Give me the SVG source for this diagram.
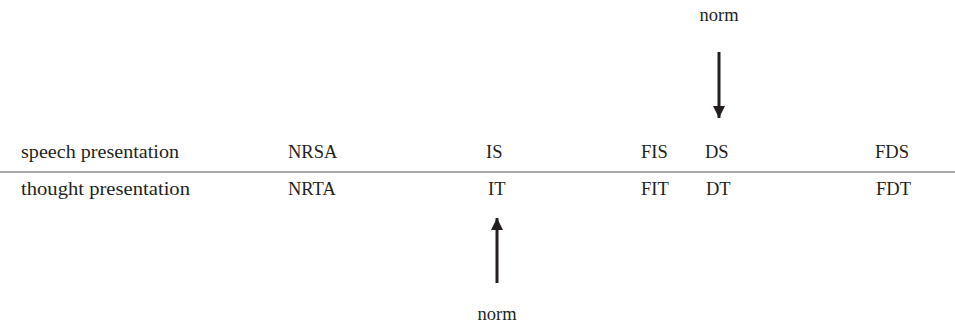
<svg xmlns="http://www.w3.org/2000/svg" width="955" height="327" viewBox="0 0 955 327">
<style>
text{font-family:"Liberation Serif","Times New Roman",serif;font-size:18.5px;fill:#231f20}
.ln{stroke:#231f20;stroke-width:3;fill:none}
</style>
<defs>
<marker id="ah" viewBox="0 0 10 10" refX="10" refY="5" markerWidth="4.5" markerHeight="4" orient="auto" markerUnits="strokeWidth">
<path d="M0,0 L10,5 L0,10 z" fill="#231f20"/>
</marker>
</defs>
<rect width="955" height="327" fill="#fff"/>
<g id="table">
<line x1="0" y1="172" x2="955" y2="172" stroke="#555" stroke-width="1.2"/>
</g>
<g id="row-speech">
<text x="21" y="158" textLength="158" lengthAdjust="spacingAndGlyphs">speech presentation</text>
<text x="288" y="158">NRSA</text>
<text x="486" y="158">IS</text>
<text x="641" y="158">FIS</text>
<text x="705" y="158">DS</text>
<text x="875" y="158">FDS</text>
</g>
<g id="row-thought">
<text x="21" y="195" textLength="169" lengthAdjust="spacingAndGlyphs">thought presentation</text>
<text x="288" y="195">NRTA</text>
<text x="488" y="195">IT</text>
<text x="641" y="195">FIT</text>
<text x="706" y="195">DT</text>
<text x="876" y="195">FDT</text>
</g>
<g id="norm-top"><text x="719" y="21" text-anchor="middle">norm</text></g>
<g id="norm-bottom"><text x="497" y="320" text-anchor="middle">norm</text></g>
<g id="connectors">
<line class="ln" x1="719" y1="52" x2="719" y2="118" marker-end="url(#ah)"/>
<line class="ln" x1="497" y1="283" x2="497" y2="218" marker-end="url(#ah)"/>
</g>
</svg>
